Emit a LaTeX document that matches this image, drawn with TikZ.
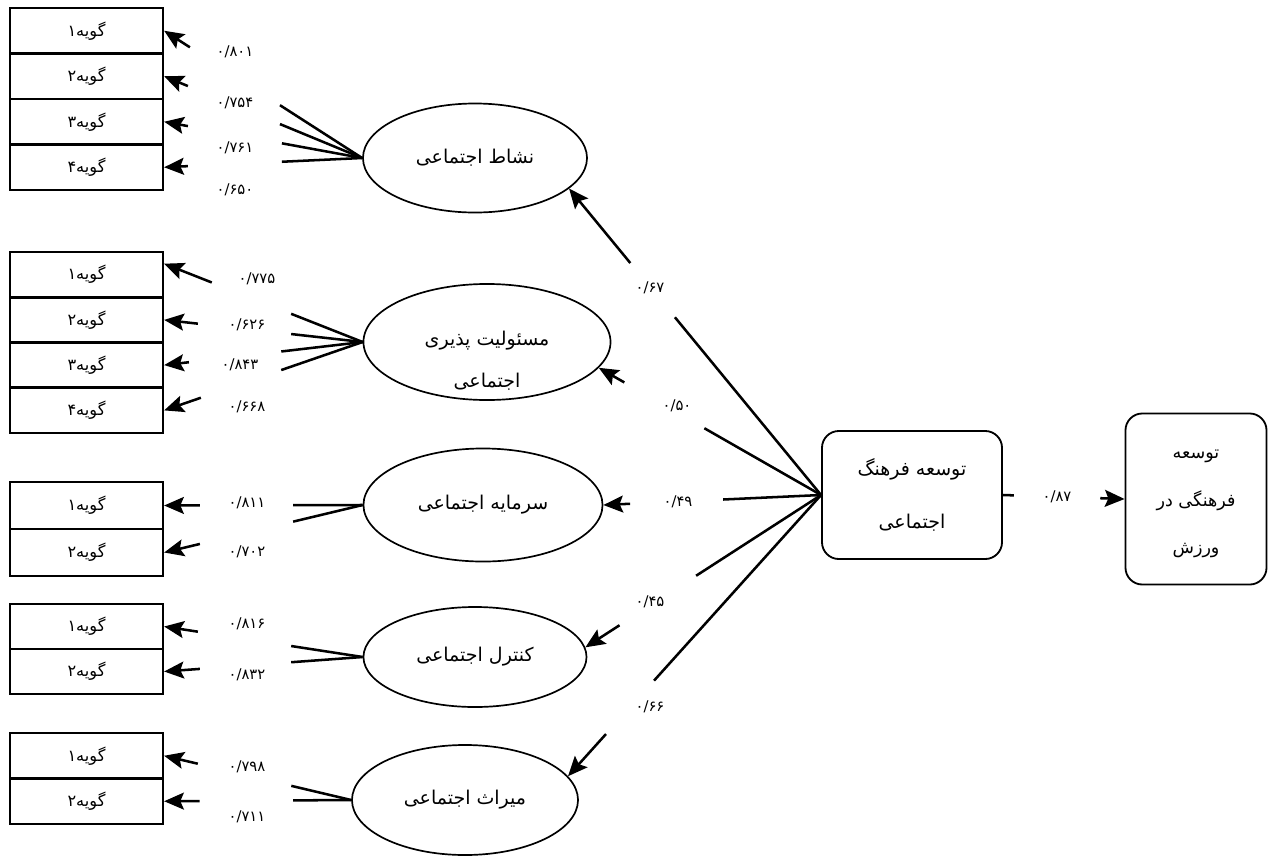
\documentclass[tikz,border=0pt]{standalone}
\usepackage{fontspec}
\newfontfamily\fa[Script=Arabic]{DejaVu Sans}
\TeXXeTstate=1
\usetikzlibrary{arrows.meta,calc,shapes.geometric}

\tikzset{
  item/.style={draw,line width=1.6pt,minimum width=3.825cm,minimum height=1.14cm,inner sep=0pt,font=\fa\fontsize{11.5}{13}\selectfont},
  latent/.style={draw,ellipse,line width=1.2pt,inner sep=0pt,align=center,font=\fa\fontsize{13.5}{30}\selectfont},
  factor/.style={draw,rounded corners=12pt,line width=1.3pt,inner sep=0pt,align=center,font=\fa\fontsize{13.5}{37.5}\selectfont},
  coef/.style={inner sep=1pt,font=\fa\fontsize{10.5}{12}\selectfont},
  link/.style={line width=1.8pt},
  tip/.style={-{Stealth[length=14pt,width=12pt,inset=2.5pt]}}
}
% connector cut in two: from #1 to #2, first piece ends at #3, arrow piece starts at #4
\newcommand{\splitarrow}[4]{%
  \draw[link] (#1) -- ($(#1)!#3!(#2)$);
  \draw[link,tip] ($(#1)!#4!(#2)$) -- (#2);}

\begin{document}
\begin{tikzpicture}[x=0.025cm,y=-0.025cm]
\useasboundingbox (0,0) rectangle (1270,856);

% items
\foreach \i/\y/\n in {1/30.75/۱,2/76.25/۲,3/121.75/۳,4/167.25/۴}
  \node[item] (a\i) at (86.5,\y) {\beginR گویه\n\endR};
\foreach \i/\y/\n in {1/274.6/۱,2/319.9/۲,3/365.1/۳,4/410.4/۴}
  \node[item] (r\i) at (86.5,\y) {\beginR گویه\n\endR};
\foreach \i/\y/\n in {1/505.5/۱,2/552.5/۲}
  \node[item,minimum height=1.175cm] (c\i) at (86.5,\y) {\beginR گویه\n\endR};
\foreach \i/\y/\n in {1/626.5/۱,2/671.5/۲}
  \node[item] (k\i) at (86.5,\y) {\beginR گویه\n\endR};
\foreach \i/\y/\n in {1/755.75/۱,2/801.25/۲}
  \node[item] (h\i) at (86.5,\y) {\beginR گویه\n\endR};

% latent variables
\node[latent,minimum width=5.6cm,minimum height=2.725cm] (act) at (475,158) {\beginR نشاط اجتماعی\endR};
\node[latent,minimum width=6.175cm,minimum height=2.9cm,
  label={[align=center,font=\fa\fontsize{13.5}{30}\selectfont,yshift=-13.5pt]center:{\beginR مسئولیت پذیری\endR\\\beginR اجتماعی\endR}}] (resp) at (487,342) {};
\node[latent,minimum width=5.975cm,minimum height=2.825cm] (cap) at (483,505) {\beginR سرمایه اجتماعی\endR};
\node[latent,minimum width=5.575cm,minimum height=2.5cm] (ctrl) at (475,657) {\beginR کنترل اجتماعی\endR};
\node[latent,minimum width=5.65cm,minimum height=2.75cm] (herit) at (465,800) {\beginR میراث اجتماعی\endR};

\node[factor,minimum width=4.5cm,minimum height=3.2cm] (dev) at (912,495) {\beginR توسعه فرهنگ\endR\\\beginR اجتماعی\endR};
\node[factor,minimum width=3.525cm,minimum height=4.275cm,font=\fa\fontsize{12.5}{34}\selectfont,
  label={[align=center,font=\fa\fontsize{12.5}{34}\selectfont,yshift=-3.5pt]center:{\beginR توسعه\endR\\\beginR فرهنگی در\endR\\\beginR ورزش\endR}}] (sport) at (1196,499) {};

% loadings
\foreach \i/\f/\g in {1/.415/.87,2/.415/.88,3/.405/.88,4/.405/.88}
  {\splitarrow{act.west}{a\i.east}{\f}{\g}}
\splitarrow{resp.west}{r1.8}{.36}{.76}
\foreach \i/\f/\g in {2/.36/.83,3/.41/.875,4/.41/.815}
  {\splitarrow{resp.west}{r\i.east}{\f}{\g}}
\foreach \i/\g in {1/.82,2/.82}
  {\splitarrow{cap.west}{c\i.east}{.35}{\g}}
\foreach \i/\g in {1/.83,2/.82}
  {\splitarrow{ctrl.west}{k\i.east}{.36}{\g}}
\foreach \i/\f/\g in {1/.32/.82,2/.31/.81}
  {\splitarrow{herit.west}{h\i.east}{\f}{\g}}

\node[coef] (la1) at (235,52) {۰/۸۰۱};
\node[coef] (la2) at (235,103) {۰/۷۵۴};
\node[coef] (la3) at (235,148) {۰/۷۶۱};
\node[coef] (la4) at (235,190) {۰/۶۵۰};
\node[coef] (lr1) at (257,279) {۰/۷۷۵};
\node[coef] (lr2) at (247,325) {۰/۶۲۶};
\node[coef] (lr3) at (240,365) {۰/۸۴۳};
\node[coef] (lr4) at (247,407) {۰/۶۶۸};
\node[coef] (lc1) at (247,503) {۰/۸۱۱};
\node[coef] (lc2) at (247,552) {۰/۷۰۲};
\node[coef] (lk1) at (247,624) {۰/۸۱۶};
\node[coef] (lk2) at (247,675) {۰/۸۳۲};
\node[coef] (lh1) at (247,767) {۰/۷۹۸};
\node[coef] (lh2) at (247,817) {۰/۷۱۱};

% structural paths
\splitarrow{dev.west}{act.-18}{.58}{.757}
\splitarrow{dev.west}{resp.-13}{.525}{.885}
\splitarrow{dev.west}{cap.east}{.45}{.877}
\splitarrow{dev.west}{ctrl.5}{.53}{.855}
\splitarrow{dev.west}{herit.13}{.66}{.85}
\splitarrow{dev.east}{sport.west}{.09}{.8}

\node[coef] (lact) at (650,288) {۰/۶۷};
\node[coef] (lresp) at (677,406) {۰/۵۰};
\node[coef] (lcap) at (678,502) {۰/۴۹};
\node[coef] (lctrl) at (650,602) {۰/۴۵};
\node[coef] (lherit) at (650,707) {۰/۶۶};
\node[coef] (lsport) at (1057,497) {۰/۸۷};
\end{tikzpicture}
\end{document}
